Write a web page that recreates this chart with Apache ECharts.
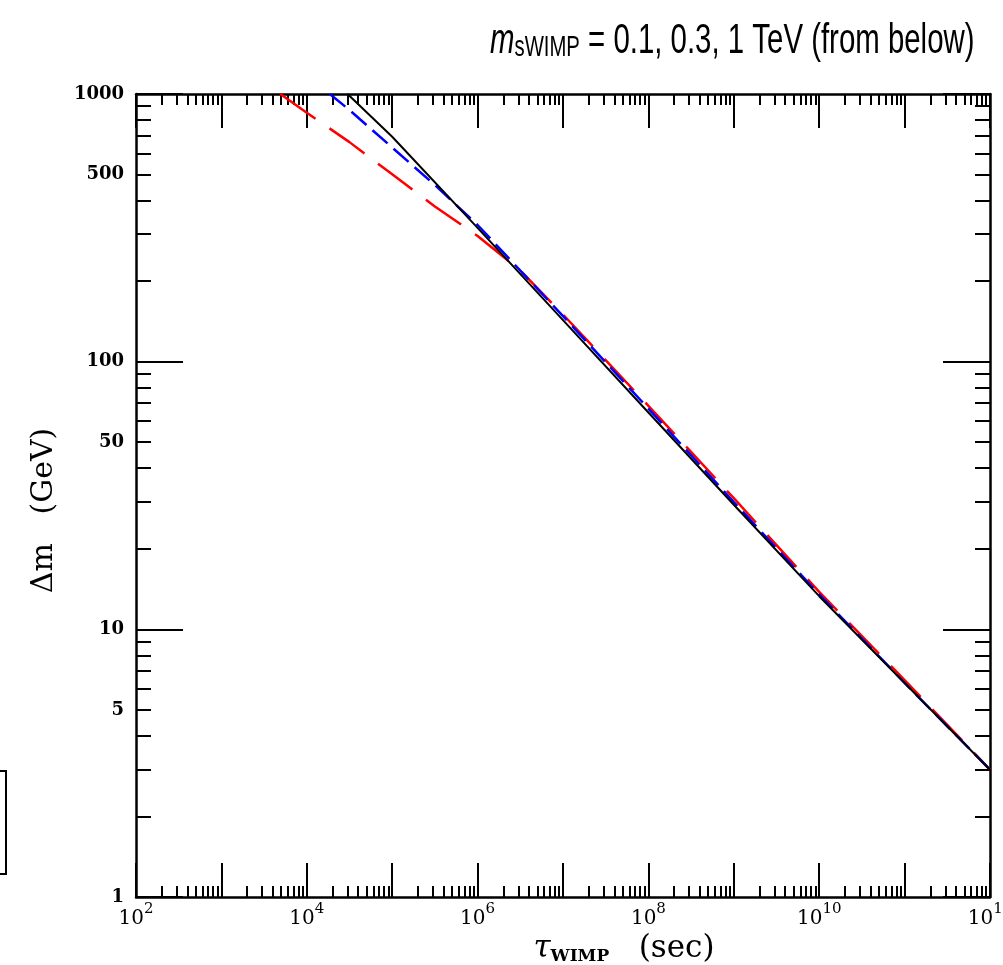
<!DOCTYPE html>
<html><head><meta charset="utf-8">
<script src="https://cdn.jsdelivr.net/npm/echarts@6/dist/echarts.min.js"></script>
<style>html,body{margin:0;padding:0;background:#fff}#c{width:1003px;height:965px}</style>
</head><body><div id="c"></div>
<script>
// m_sWIMP = 0.1 TeV (red, long dash)
const tauRed = [4900, 1e4, 3.16e4, 1e5, 3.16e5, 1e6, 3.16e6, 1e7, 1e8, 1e9, 1e10, 1e11, 1e12];
const dmRed  = [1000, 851, 661, 501, 380, 295, 219, 150, 68.4, 30.9, 13.8, 6.46, 2.99];
// m_sWIMP = 0.3 TeV (blue, short dash)
const tauBlue = [1.86e4, 3.16e4, 1e5, 3.16e5, 1e6, 1e7, 1e8, 1e9, 1e10, 1e11, 1e12];
const dmBlue  = [1000, 871, 631, 457, 324, 148, 66.8, 29.9, 13.5, 6.31, 2.99];
// m_sWIMP = 1 TeV (black, solid)
const tauBlack = [3.0e4, 1e5, 1e6, 1e7, 1e8, 1e9, 1e10, 1e11, 1e12];
const dmBlack  = [1000, 692, 316, 143, 64.6, 29.2, 13.3, 6.3, 2.99];

const xMajorTicks = [1e2,1e3,1e4,1e5,1e6,1e7,1e8,1e9,1e10,1e11,1e12];
const xLabelTicks = [1e2,1e4,1e6,1e8,1e10,1e12];
const yMajorTicks = [1,10,100,1000];
const yLabelTicks = [1,5,10,50,100,500,1000];

function minorsOf(majors){
  const out=[];
  for(let i=0;i<majors.length-1;i++){ for(let k=2;k<=9;k++) out.push(majors[i]*k); }
  return out;
}
const xMinorTicks = minorsOf(xMajorTicks);
const yMinorTicks = minorsOf(yMajorTicks);

const pairs = (a,b)=>a.map((v,i)=>[v,b[i]]);
const AX = {color:'#000', width:2.5};

function xAx(pos, major, withLabel){
  const o = {
    type:'log', logBase:10, min:100, max:1e12, position:pos, gridIndex:0,
    axisLine:{show:major, onZero:false, lineStyle:AX},
    axisTick:{show:true, inside:true, length: major?34:11, lineStyle:{color:'#000', width:2}, customValues: major?xMajorTicks:xMinorTicks},
    axisLabel:{show:false},
    splitLine:{show:false}, minorTick:{show:false}, minorSplitLine:{show:false}
  };
  if(withLabel){
    o.axisLabel = {show:true, customValues:xLabelTicks, margin:5, hideOverlap:false, showMinLabel:true, showMaxLabel:true,
      formatter: v => '{b|10}{e|' + Math.round(Math.log10(v)) + '}',
      rich:{
        b:{fontFamily:'DejaVu Serif', fontSize:20, color:'#000', verticalAlign:'bottom', lineHeight:27},
        e:{fontFamily:'DejaVu Serif', fontSize:15, color:'#000', verticalAlign:'top', lineHeight:15}
      }};
    o.name = '{t|τ}{w|WIMP}{p|   (sec)}';
    o.nameLocation = 'middle';
    o.nameGap = 34;
    o.nameTextStyle = {padding:[0,0,0,122], rich:{
      t:{fontFamily:'DejaVu Serif', fontStyle:'italic', fontSize:31, color:'#000', verticalAlign:'bottom', lineHeight:32},
      w:{fontFamily:'DejaVu Serif', fontWeight:'bold', fontSize:17, color:'#000', verticalAlign:'bottom', lineHeight:12},
      p:{fontFamily:'DejaVu Serif', fontSize:31, color:'#000', verticalAlign:'bottom', lineHeight:32}
    }};
  }
  return o;
}
function yAx(pos, major, withLabel){
  const o = {
    type:'log', logBase:10, min:1, max:1000, position:pos, gridIndex:0,
    axisLine:{show:major, onZero:false, lineStyle:AX},
    axisTick:{show:true, inside:true, length: major?47:15, lineStyle:{color:'#000', width:2}, customValues: major?yMajorTicks:yMinorTicks},
    axisLabel:{show:false},
    splitLine:{show:false}, minorTick:{show:false}, minorSplitLine:{show:false}
  };
  if(withLabel){
    o.axisLabel = {show:true, customValues:yLabelTicks, margin:12, hideOverlap:false, showMinLabel:true, showMaxLabel:true,
      fontFamily:'DejaVu Serif', fontWeight:'bold', fontSize:18, color:'#000',
      formatter: v => String(Math.round(v))};
    o.name = 'Δm   (GeV)';
    o.nameLocation = 'middle';
    o.nameGap = 77;
    o.nameTextStyle = {fontFamily:'DejaVu Serif', fontSize:30, color:'#000', padding:[0,30,0,0]};
  }
  return o;
}

const chart = echarts.init(document.getElementById('c'), null, {renderer:'canvas'});
chart.setOption({
  backgroundColor:'#fff',
  animation:false,
  grid:{left:136, right:13, top:94, bottom:68, containLabel:false, outerBoundsMode:'none'},
  xAxis:[ xAx('bottom', true, true), xAx('bottom', false, false), xAx('top', true, false), xAx('top', false, false) ],
  yAxis:[ yAx('left', true, true), yAx('left', false, false), yAx('right', true, false), yAx('right', false, false) ],
  graphic:[
    { type:'text', x:490, y:18, scaleX:0.7, z:10,
      style:{ text:'{m|m}{s|sWIMP}{n| = 0.1, 0.3, 1 TeV (from below)}', rich:{
        m:{fontFamily:'Liberation Sans', fontStyle:'italic', fontSize:42, fill:'#000', verticalAlign:'bottom', lineHeight:44},
        s:{fontFamily:'Liberation Sans', fontSize:29, fill:'#000', verticalAlign:'bottom', lineHeight:10},
        n:{fontFamily:'Liberation Sans', fontSize:42, fill:'#000', verticalAlign:'bottom', lineHeight:44}
      }}},
    { type:'rect', shape:{x:-10, y:771, width:16, height:103}, style:{fill:'none', stroke:'#000', lineWidth:2} }
  ],
  series:[
    { type:'line', xAxisIndex:0, yAxisIndex:0, data:pairs(tauRed, dmRed), showSymbol:false, smooth:false,
      lineStyle:{color:'#ff0000', width:2.5, type:[43,17]}, z:2 },
    { type:'line', xAxisIndex:0, yAxisIndex:0, data:pairs(tauBlue, dmBlue), showSymbol:false,
      lineStyle:{color:'#0000ff', width:2.5, type:[20,8]}, z:3 },
    { type:'line', xAxisIndex:0, yAxisIndex:0, data:pairs(tauBlack, dmBlack), showSymbol:false,
      lineStyle:{color:'#000000', width:2}, z:4 }
  ]
});
</script>
</body></html>
